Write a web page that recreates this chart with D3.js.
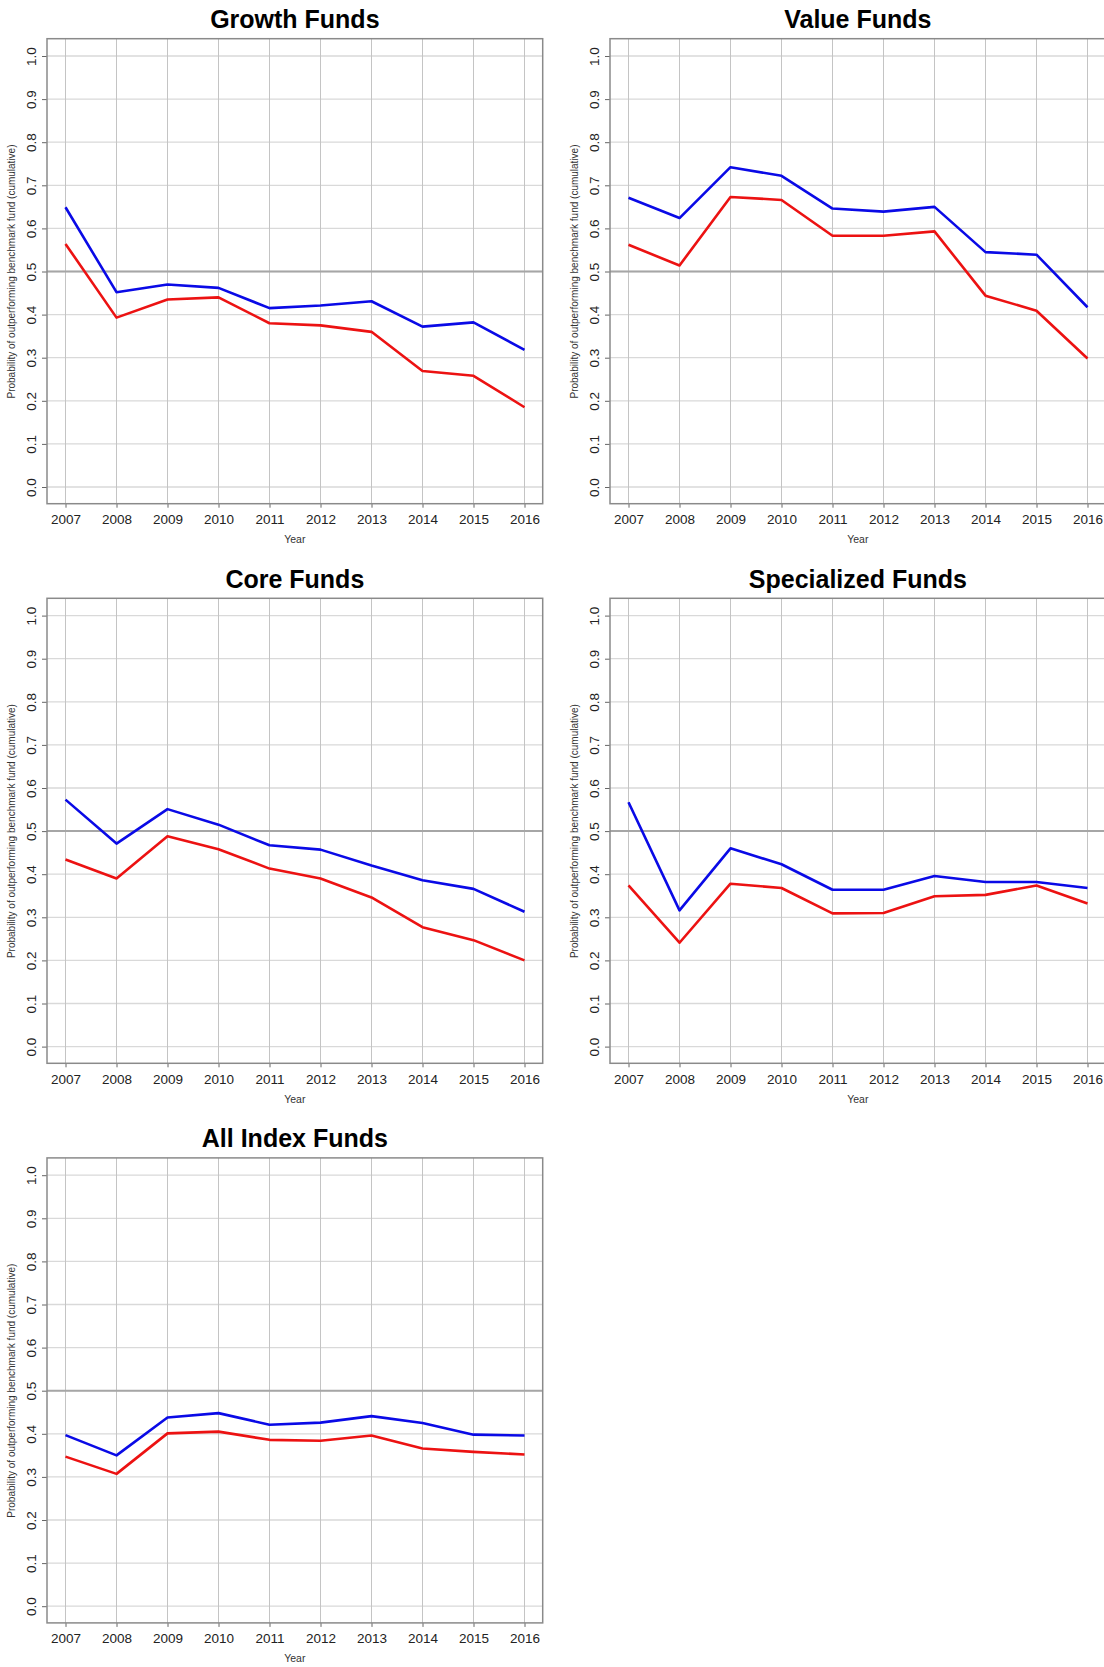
<!DOCTYPE html>
<html>
<head>
<meta charset="utf-8">
<script src="https://cdn.jsdelivr.net/npm/d3@7"></script>
<style>
  body { margin: 0; background: #fff; }
  svg { display: block; font-family: "Liberation Sans", Arial, Helvetica, sans-serif; }
</style>
</head>
<body>
<div id="chart"></div>
<script>
// data
var years = [2007, 2008, 2009, 2010, 2011, 2012, 2013, 2014, 2015, 2016];
var yTicks = [0, 0.1, 0.2, 0.3, 0.4, 0.5, 0.6, 0.7, 0.8, 0.9, 1.0];
var titles = ["Growth Funds", "Value Funds", "Core Funds", "Specialized Funds", "All Index Funds"];

var growthBlue = [0.649, 0.452, 0.470, 0.462, 0.415, 0.421, 0.431, 0.372, 0.382, 0.318];
var growthRed  = [0.564, 0.393, 0.435, 0.440, 0.380, 0.375, 0.360, 0.269, 0.258, 0.185];

var valueBlue = [0.671, 0.624, 0.742, 0.722, 0.646, 0.639, 0.650, 0.545, 0.539, 0.417];
var valueRed  = [0.562, 0.514, 0.673, 0.666, 0.583, 0.583, 0.593, 0.444, 0.409, 0.298];

var coreBlue = [0.573, 0.471, 0.551, 0.515, 0.467, 0.457, 0.420, 0.386, 0.366, 0.313];
var coreRed  = [0.434, 0.390, 0.488, 0.458, 0.413, 0.390, 0.346, 0.277, 0.247, 0.200];

var specBlue = [0.567, 0.316, 0.460, 0.423, 0.364, 0.364, 0.396, 0.382, 0.382, 0.368];
var specRed  = [0.374, 0.241, 0.378, 0.368, 0.309, 0.310, 0.349, 0.352, 0.374, 0.332];

var allBlue = [0.397, 0.350, 0.438, 0.448, 0.421, 0.426, 0.441, 0.425, 0.398, 0.396];
var allRed  = [0.347, 0.307, 0.401, 0.405, 0.386, 0.384, 0.396, 0.366, 0.358, 0.352];

var blueSeries = [growthBlue, valueBlue, coreBlue, specBlue, allBlue];
var redSeries = [growthRed, valueRed, coreRed, specRed, allRed];

var svgWidth = 1104;
var svgHeight = 1667;
var panelW = 563;
var panelH = 559.6;

var box = { left: 47, right: 542.7, top: 38.7, bottom: 503.7 };

var svg = d3.select("#chart")
  .append("svg")
  .attr("width", svgWidth)
  .attr("height", svgHeight);

var xScale = d3.scaleLinear()
  .domain([2007, 2016])
  .range([65.5, 524.5]);

var yScale = d3.scaleLinear()
  .domain([0, 1])
  .range([487, 56]);

titles.forEach(function(title, i) {
  var col = i % 2;
  var row = Math.floor(i / 2);
  var g = svg.append("g")
    .attr("transform", `translate(${col * panelW}, ${row * panelH})`);

  // grid
  g.selectAll(".hgrid")
    .data(yTicks)
    .enter()
    .append("line")
    .attr("x1", box.left)
    .attr("x2", box.right)
    .attr("y1", d => yScale(d))
    .attr("y2", d => yScale(d))
    .attr("stroke", "#d9d9d9")
    .attr("stroke-width", 1.3);

  g.selectAll(".vgrid")
    .data(years)
    .enter()
    .append("line")
    .attr("x1", d => xScale(d))
    .attr("x2", d => xScale(d))
    .attr("y1", box.top)
    .attr("y2", box.bottom)
    .attr("stroke", "#c4c4c4")
    .attr("stroke-width", 1);

  // 0.5 reference line
  g.append("line")
    .attr("x1", box.left)
    .attr("x2", box.right)
    .attr("y1", yScale(0.5))
    .attr("y2", yScale(0.5))
    .attr("stroke", "#a6a6a6")
    .attr("stroke-width", 2);

  // axes
  var bottomAxis = d3.axisBottom(xScale)
    .tickValues(years)
    .tickFormat(d3.format("d"))
    .tickSize(4);
  var leftAxis = d3.axisLeft(yScale)
    .tickValues(yTicks)
    .tickFormat(d3.format(".1f"))
    .tickSize(5);

  var xAxisG = g.append("g")
    .attr("transform", `translate(0, ${box.bottom})`)
    .call(bottomAxis);
  xAxisG.select(".domain").remove();
  xAxisG.selectAll("line").attr("stroke", "#666");
  xAxisG.selectAll("text")
    .attr("y", 20.5)
    .attr("dy", null)
    .style("font-size", "13.5px")
    .attr("fill", "#222");

  var yAxisG = g.append("g")
    .attr("transform", `translate(${box.left}, 0)`)
    .call(leftAxis);
  yAxisG.select(".domain").remove();
  yAxisG.selectAll("line").attr("stroke", "#666");
  yAxisG.selectAll("text")
    .attr("transform", "rotate(-90)")
    .attr("x", 0)
    .attr("y", -11)
    .attr("dy", null)
    .attr("text-anchor", "middle")
    .style("font-size", "13.5px")
    .attr("fill", "#222");

  // lines
  var line = d3.line()
    .x((d, j) => xScale(years[j]))
    .y(d => yScale(d));

  g.append("path")
    .datum(blueSeries[i])
    .attr("d", line)
    .attr("fill", "none")
    .attr("stroke", "#0a0ae6")
    .attr("stroke-width", 2.6)
    .attr("stroke-linejoin", "round");

  g.append("path")
    .datum(redSeries[i])
    .attr("d", line)
    .attr("fill", "none")
    .attr("stroke", "#ec1212")
    .attr("stroke-width", 2.6)
    .attr("stroke-linejoin", "round");

  // box
  g.append("rect")
    .attr("x", box.left)
    .attr("y", box.top)
    .attr("width", box.right - box.left)
    .attr("height", box.bottom - box.top)
    .attr("fill", "none")
    .attr("stroke", "#8a8a8a")
    .attr("stroke-width", 1.5);

  // labels
  g.append("text")
    .attr("x", (box.left + box.right) / 2)
    .attr("y", 28)
    .attr("text-anchor", "middle")
    .style("font-size", "25px")
    .style("font-weight", "bold")
    .attr("fill", "#000")
    .text(title);

  g.append("text")
    .attr("x", (box.left + box.right) / 2)
    .attr("y", 543)
    .attr("text-anchor", "middle")
    .style("font-size", "10.5px")
    .attr("fill", "#333")
    .text("Year");

  g.append("text")
    .attr("transform", "rotate(-90)")
    .attr("x", -yScale(0.5))
    .attr("y", 14.5)
    .attr("text-anchor", "middle")
    .style("font-size", "10px")
    .attr("fill", "#333")
    .text("Probability of outperforming benchmark fund (cumulative)");
});
</script>
</body>
</html>
